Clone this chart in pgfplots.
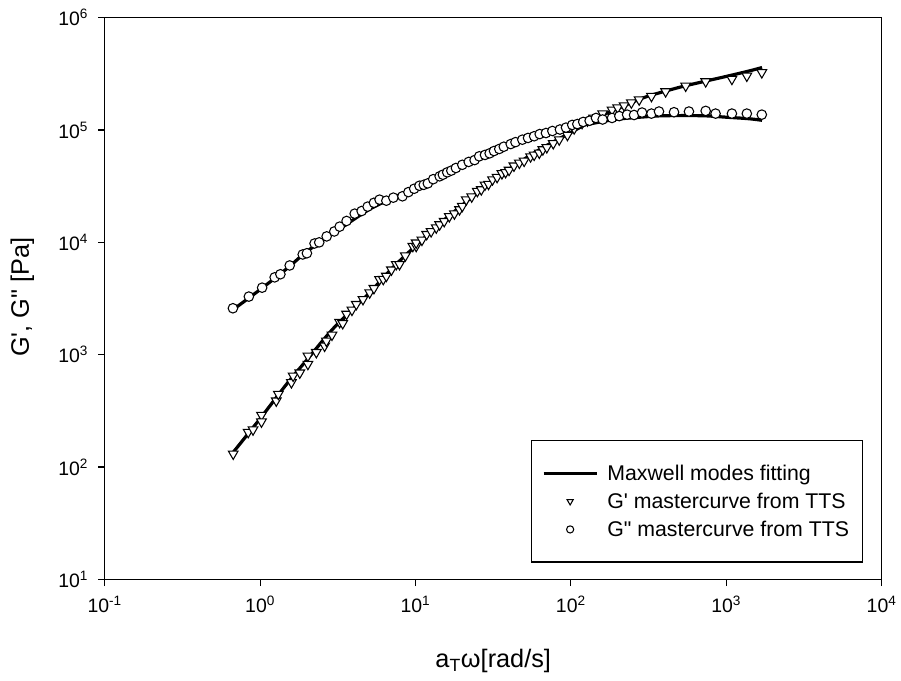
\documentclass[border=0pt]{standalone}
\usepackage{pgfplots}
\pgfplotsset{compat=1.18}
\usepackage{fontspec}
\setmainfont{Liberation Sans}[Ligatures=TeXOff]
\pgfplotsset{
  markleg/.style={legend image code/.code={\draw[mark repeat=2,mark phase=2,##1,mark size=2.7pt] plot coordinates {(0pt,0pt) (20pt,0pt) (40pt,0pt)};\path[draw=none] (0pt,0pt) (46pt,0pt);}},
  lineleg/.style={legend image code/.code={\draw[black,line width=2.6pt] (0pt,0pt)--(40pt,0pt);\path[draw=none] (0pt,0pt) (46pt,0pt);}},
}
\begin{document}
\begin{tikzpicture}
\begin{loglogaxis}[
  scale only axis,
  width=584pt, height=422.25pt,
  xmin=0.1, xmax=10000, ymin=10, ymax=1000000,
  axis line style={line width=0.9pt},
  xtick={0.1,1,10,100,1000,10000},
  ytick={10,100,1000,10000,100000,1000000},
  xticklabels={10\textsuperscript{-1},10\textsuperscript{0},10\textsuperscript{1},10\textsuperscript{2},10\textsuperscript{3},10\textsuperscript{4}},
  yticklabels={10\textsuperscript{1},10\textsuperscript{2},10\textsuperscript{3},10\textsuperscript{4},10\textsuperscript{5},10\textsuperscript{6}},
  xminorticks=false, yminorticks=false,
  xtick pos=bottom, ytick pos=left,
  tick align=outside,
  major tick length=5pt,
  tick style={line width=0.9pt, black},
  tick label style={font=\fontsize{14.6}{17}\selectfont},
  xticklabel style={yshift=-4pt},
  yticklabel style={xshift=-4pt},
  xlabel={a\textsubscript{T}ω[rad/s]},
  ylabel={G', G" [Pa]},
  label style={font=\fontsize{19}{22}\selectfont},
  xlabel style={at={(axis description cs:0.5,-0.145)}, anchor=center},
  ylabel style={at={(axis description cs:-0.106,0.502)}, anchor=center},
  legend style={at={(0.976,0.248)}, anchor=north east, draw=black, line width=0.9pt,
    font=\fontsize{16}{19}\selectfont, inner xsep=8pt, inner ysep=16pt,
    row sep=4pt, cells={anchor=west}},
  legend cell align=left,
]
% Maxwell modes fitting (G')
\addplot[black, line width=2.4pt, smooth, lineleg]
  coordinates {
  (0.67,135) (1,270) (1.5,560) (2,900) (3,1750) (5,3500) (7,5800) (10,9300)
  (15,15500) (20,21500) (30,34000) (50,55000) (70,73000) (100,95000)
  (150,130000) (200,155000) (300,196000) (500,240000) (700,268000)
  (1000,300000) (1400,335000) (1700,360000)};
\addlegendentry{Maxwell modes fitting}
% Maxwell modes fitting (G'')
\addplot[black, line width=2.4pt, smooth, forget plot]
  coordinates {
  (0.67,2520) (1,3800) (1.5,5900) (2,8300) (3,12200) (5,19500) (7,24500) (10,31000)
  (15,40000) (20,48000) (30,62000) (50,80000) (70,93000) (100,105000)
  (150,117000) (200,125000) (300,131000) (400,134000) (700,134000)
  (1000,130000) (1400,126000) (1700,122000)};
% G' mastercurve
\addplot[only marks, mark=triangle*, mark size=4.2pt,
  mark options={rotate=180, fill=white, draw=black, line width=0.8pt}, markleg]
  coordinates {
  (0.671,131) (0.838,204) (0.9,215) (1.02,290) (1.02,253) (1.27,389) (1.31,446)
  (1.59,566) (1.63,648) (1.8,690) (2.03,824) (2.03,976) (2.3,1050) (2.6,1197) (2.67,1327)
  (2.9,1500) (3.25,1945) (3.4,1900) (3.6,2300) (3.9,2500) (4.16,2810) (4.59,3110) (5.07,3570)
  (5.4,3900) (5.87,4680) (6.2,4700) (6.49,5010) (7.0,5700) (7.52,6370) (7.89,6370)
  (8.6,7600) (9.61,9250) (10.1,9250) (10.1,9910) (11,10500)
  (11.8,11800) (12.6,12500) (13.6,13500) (14.3,14400) (15.3,15400) (16.5,17000) (17.8,18000) (19.2,19600)
  (20,21000) (21.2,24000) (23,25500) (25,28500) (26.5,29500) (28,32500) (29.5,33000) (31.3,36200)
  (33.5,38000) (36,41000) (38,42000) (40,44000) (43,48000)
  (46.6,50900) (50,53000) (55,58000) (58,60000) (62.6,62500) (66,67000) (70,70000) (77,76000) (84.1,82000) (95,90000)
  (105,103000) (118,115000) (128,121000) (140,128000) (160,140000) (184,151000) (200,158000) (220,165000)
  (245,175000) (275,186000) (330,200000) (407,220000) (548,247000) (737,270000)
  (1087,284000) (1356,303000) (1693,325000)};
\addlegendentry{G' mastercurve from TTS}
% G'' mastercurve
\addplot[only marks, mark=*, mark size=3.6pt,
  mark options={fill=white, draw=black, line width=0.8pt}, markleg]
  coordinates {
  (0.668,2590) (0.846,3290) (1.03,3950) (1.24,4880) (1.35,5200) (1.55,6230)
  (1.88,7800) (2.0,8000) (2.24,9770) (2.4,10000) (2.68,11300) (3.0,12500)
  (3.25,13800) (3.6,15500) (4.06,18000) (4.5,19000) (4.92,20800) (5.4,22500) (5.87,24000)
  (6.49,23500) (7.2,25000) (8.24,25700) (9,28000) (9.8,30000) (10.6,31900) (11.3,32500) (12,33500) (13,36500) (14.3,38700)
  (15,40000) (16,42000) (17,43500) (18.2,45900) (20,49000) (22,52000) (24,54000) (25.7,58300) (28,60000) (30,62000) (32,65000) (34.6,67800)
  (37,71000) (41,75000) (44,78000) (48.7,82000) (53,85000) (58,88000) (63,92000) (69.1,94000) (76,98000) (85,101000) (93,105000) (102,111000)
  (110,113000) (120,118000) (132,121000) (145,128000) (160,124000) (184,128000) (205,133000) (230,137000) (255,136000) (287,143000)
  (330,140000) (369,146000) (461,144000) (575,146000) (737,148000) (853,140000)
  (1087,140000) (1356,140000) (1693,137000)};
\addlegendentry{G" mastercurve from TTS}
\end{loglogaxis}
\path ([shift={(-78.75pt,-75.98pt)}]current axis.south west) rectangle ([shift={(12.98pt,13.28pt)}]current axis.north east);
\end{tikzpicture}
\end{document}
